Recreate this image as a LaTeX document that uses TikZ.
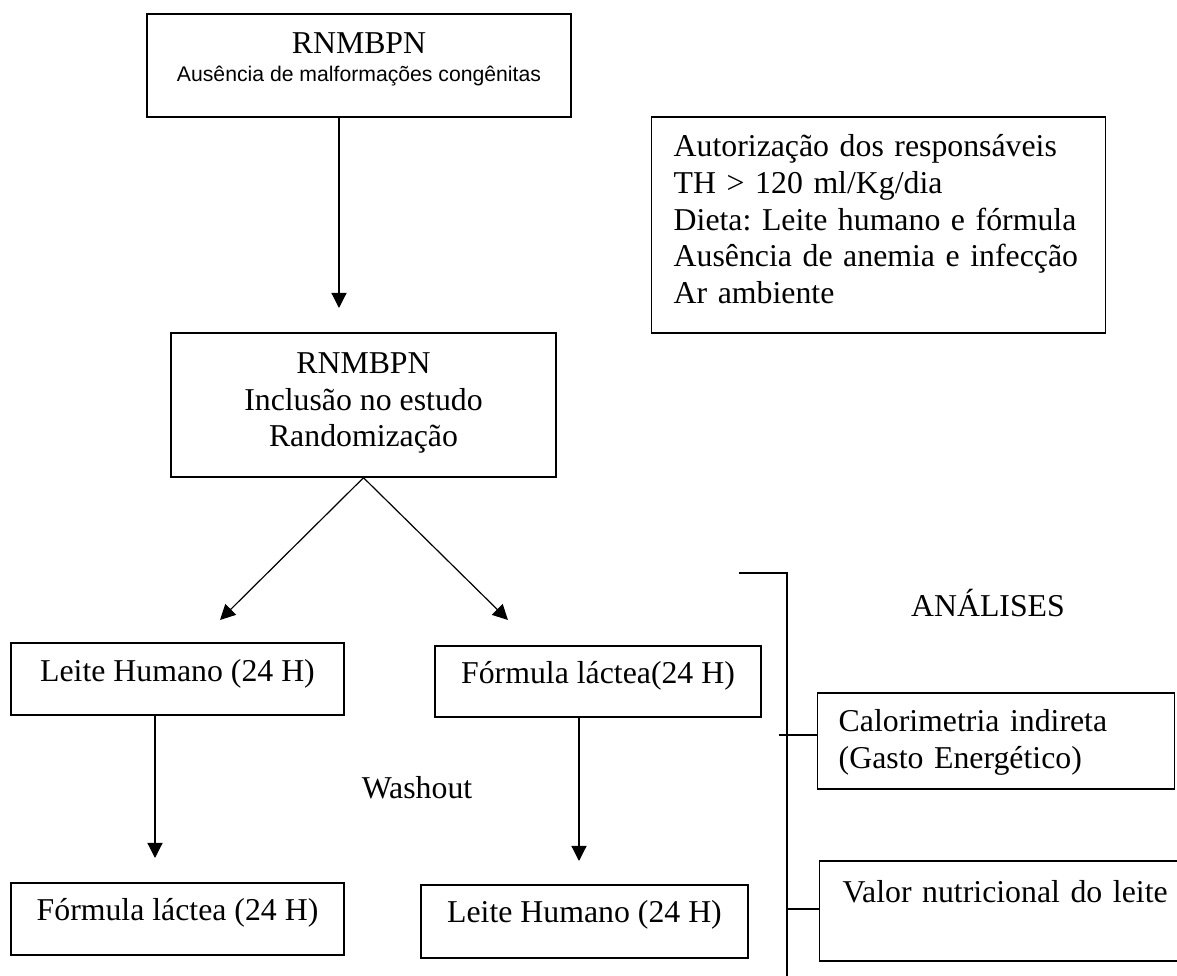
\documentclass[tikz,border=0pt]{standalone}
\usepackage{fontspec}
\setmainfont{Liberation Serif}
\newfontfamily\arialfont{Liberation Sans}
\usetikzlibrary{arrows.meta,positioning}
\newcommand{\pxu}{0.3774pt}
\frenchspacing

\begin{document}
\begin{tikzpicture}[
    x=\pxu, y=-\pxu,
    every node/.style={font=\fontsize{12}{13.8}\selectfont},
    flowbox/.style={draw, line width=0.55pt, inner sep=0pt, align=center, anchor=base},
    listbox/.style={draw, line width=0.55pt, inner ysep=0pt, align=left, anchor=base west},
    arrow/.style={-{Triangle[length=5.7pt, width=5.7pt]}, line width=0.45pt},
    bracket/.style={line width=0.6pt}
]
\useasboundingbox (0,0) rectangle (1177,976);

% Entry boxes (placed at the baseline of their last line)
\node[flowbox, minimum width=424*\pxu, text height=68*\pxu, text depth=35*\pxu] (rn) at (359,82)
  {RNMBPN\\[-2.9pt]{\arialfont\fontsize{8}{9.6}\selectfont Ausência de malformações congênitas}};
\node[flowbox, minimum width=385*\pxu, text height=114*\pxu, text depth=30*\pxu] (incl) at (363.5,447)
  {RNMBPN\\Inclusão no estudo\\Randomização};

% Criteria box (placed at the baseline of its first line)
\node[listbox, inner xsep=22*\pxu, text width=410*\pxu, text height=40*\pxu, text depth=176*\pxu] (crit) at (651,157)
  {Autorização dos responsáveis\\TH > 120 ml/Kg/dia\\Dieta: Leite humano e fórmula\\Ausência de anemia e infecção\\Ar ambiente};

% Crossover arms
\node[flowbox, minimum width=333*\pxu, text height=39*\pxu, text depth=33*\pxu] (lh1) at (177.5,682) {Leite Humano (24 H)};
\node[flowbox, minimum width=326*\pxu, text height=38*\pxu, text depth=33*\pxu] (fl1) at (598,684) {Fórmula láctea(24 H)};
\node[flowbox, minimum width=333*\pxu, text height=38*\pxu, text depth=34*\pxu] (fl2) at (177.5,921) {Fórmula láctea (24 H)};
\node[flowbox, minimum width=327*\pxu, text height=38*\pxu, text depth=35*\pxu] (lh2) at (584.5,923) {Leite Humano (24 H)};
\node (wash) at (417,788) {Washout};

% Analyses
\node (anal) at (988,603) {ANÁLISES};
\node[listbox, inner xsep=21*\pxu, text width=315*\pxu, text height=39*\pxu, text depth=57*\pxu] (calor) at (817,732)
  {Calorimetria indireta\\(Gasto Energético)};
\node[listbox, inner xsep=23*\pxu, text width=380*\pxu, text height=42*\pxu, text depth=58*\pxu] (valor) at (819,903)
  {Valor nutricional do leite};

% Arrows
\coordinate (tip1) at (339,308);
\coordinate (tipL) at (220,620);
\coordinate (tipR) at (508,620);
\coordinate (tip2) at (155,858);
\coordinate (tip3) at (579,861);
\draw[arrow] (rn.south -| tip1) -- (tip1);
\draw[arrow] (incl.south) -- (tipL);
\draw[arrow] (incl.south) -- (tipR);
\draw[arrow] (lh1.south -| tip2) -- (tip2);
\draw[arrow] (fl1.south -| tip3) -- (tip3);

% Bracket
\coordinate (brtop) at (787,573);
\coordinate (brbot) at (787,976);
\draw[bracket] (739,573) -- (brtop) -- (brbot);
\draw[bracket] (779,735) -- (calor.west |- 0,735);
\draw[bracket] (brtop |- 0,909) -- (valor.west |- 0,909);

\end{tikzpicture}
\end{document}
